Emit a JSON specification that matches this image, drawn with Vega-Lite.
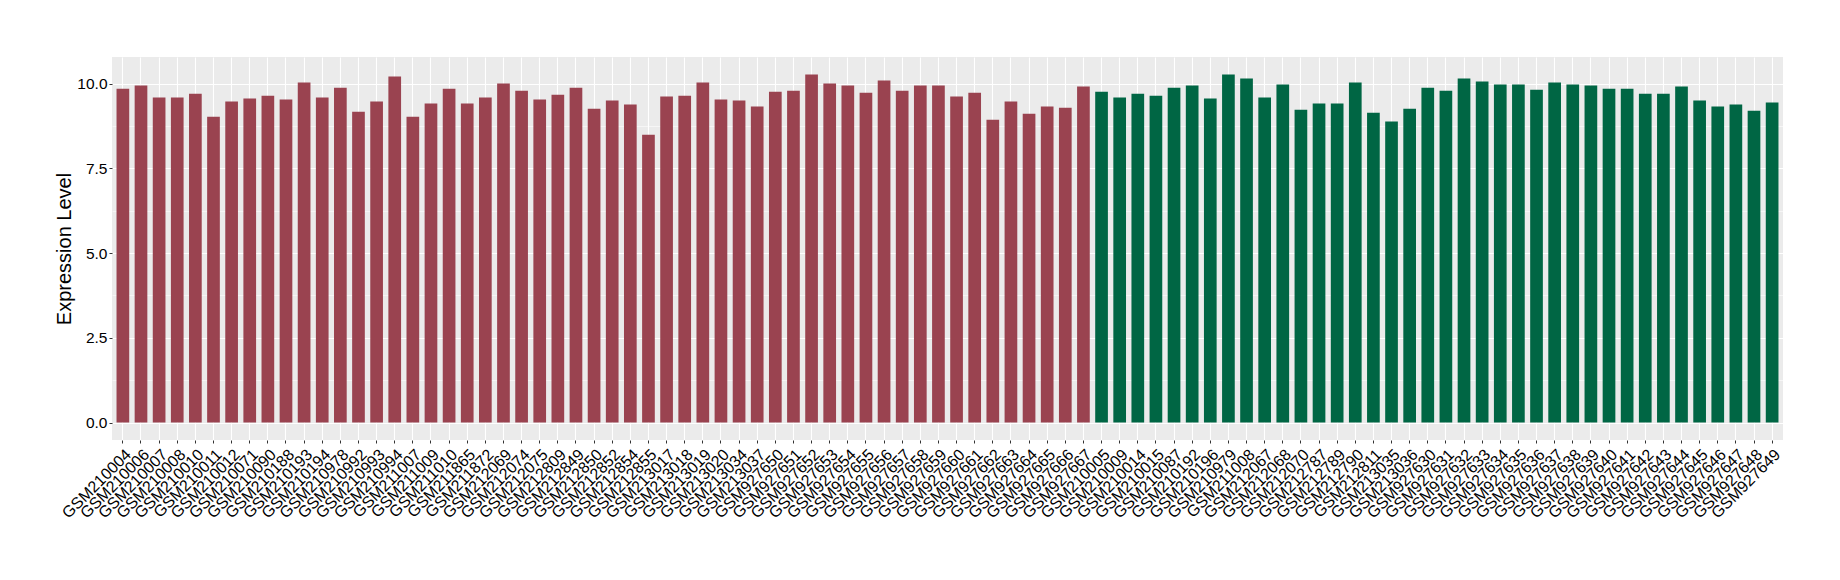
{
  "$schema": "https://vega.github.io/schema/vega-lite/v6.json",
  "width": 1671,
  "height": 383,
  "padding": {"left": 54, "top": 57, "right": 5, "bottom": 5},
  "background": "white",
  "config": {"view": {"fill": "#EBEBEB", "stroke": null}, "font": "Liberation Sans"},
  "data": {"values": [
    {"sample": "GSM210004", "value": 9.85, "group": "g1"},
    {"sample": "GSM210006", "value": 9.94, "group": "g1"},
    {"sample": "GSM210007", "value": 9.59, "group": "g1"},
    {"sample": "GSM210008", "value": 9.59, "group": "g1"},
    {"sample": "GSM210010", "value": 9.70, "group": "g1"},
    {"sample": "GSM210011", "value": 9.02, "group": "g1"},
    {"sample": "GSM210012", "value": 9.47, "group": "g1"},
    {"sample": "GSM210071", "value": 9.56, "group": "g1"},
    {"sample": "GSM210090", "value": 9.64, "group": "g1"},
    {"sample": "GSM210188", "value": 9.53, "group": "g1"},
    {"sample": "GSM210193", "value": 10.03, "group": "g1"},
    {"sample": "GSM210194", "value": 9.59, "group": "g1"},
    {"sample": "GSM210978", "value": 9.88, "group": "g1"},
    {"sample": "GSM210992", "value": 9.17, "group": "g1"},
    {"sample": "GSM210993", "value": 9.47, "group": "g1"},
    {"sample": "GSM210994", "value": 10.21, "group": "g1"},
    {"sample": "GSM211007", "value": 9.02, "group": "g1"},
    {"sample": "GSM211009", "value": 9.41, "group": "g1"},
    {"sample": "GSM211010", "value": 9.85, "group": "g1"},
    {"sample": "GSM211865", "value": 9.41, "group": "g1"},
    {"sample": "GSM211872", "value": 9.59, "group": "g1"},
    {"sample": "GSM212069", "value": 10.00, "group": "g1"},
    {"sample": "GSM212074", "value": 9.79, "group": "g1"},
    {"sample": "GSM212075", "value": 9.53, "group": "g1"},
    {"sample": "GSM212809", "value": 9.67, "group": "g1"},
    {"sample": "GSM212849", "value": 9.88, "group": "g1"},
    {"sample": "GSM212850", "value": 9.26, "group": "g1"},
    {"sample": "GSM212852", "value": 9.50, "group": "g1"},
    {"sample": "GSM212854", "value": 9.38, "group": "g1"},
    {"sample": "GSM212855", "value": 8.49, "group": "g1"},
    {"sample": "GSM213017", "value": 9.62, "group": "g1"},
    {"sample": "GSM213018", "value": 9.64, "group": "g1"},
    {"sample": "GSM213019", "value": 10.03, "group": "g1"},
    {"sample": "GSM213020", "value": 9.53, "group": "g1"},
    {"sample": "GSM213034", "value": 9.50, "group": "g1"},
    {"sample": "GSM213037", "value": 9.32, "group": "g1"},
    {"sample": "GSM927650", "value": 9.76, "group": "g1"},
    {"sample": "GSM927651", "value": 9.79, "group": "g1"},
    {"sample": "GSM927652", "value": 10.27, "group": "g1"},
    {"sample": "GSM927653", "value": 10.00, "group": "g1"},
    {"sample": "GSM927654", "value": 9.94, "group": "g1"},
    {"sample": "GSM927655", "value": 9.73, "group": "g1"},
    {"sample": "GSM927656", "value": 10.09, "group": "g1"},
    {"sample": "GSM927657", "value": 9.79, "group": "g1"},
    {"sample": "GSM927658", "value": 9.94, "group": "g1"},
    {"sample": "GSM927659", "value": 9.94, "group": "g1"},
    {"sample": "GSM927660", "value": 9.62, "group": "g1"},
    {"sample": "GSM927661", "value": 9.73, "group": "g1"},
    {"sample": "GSM927662", "value": 8.93, "group": "g1"},
    {"sample": "GSM927663", "value": 9.47, "group": "g1"},
    {"sample": "GSM927664", "value": 9.11, "group": "g1"},
    {"sample": "GSM927665", "value": 9.32, "group": "g1"},
    {"sample": "GSM927666", "value": 9.29, "group": "g1"},
    {"sample": "GSM927667", "value": 9.91, "group": "g1"},
    {"sample": "GSM210005", "value": 9.76, "group": "g2"},
    {"sample": "GSM210009", "value": 9.59, "group": "g2"},
    {"sample": "GSM210014", "value": 9.70, "group": "g2"},
    {"sample": "GSM210015", "value": 9.64, "group": "g2"},
    {"sample": "GSM210087", "value": 9.88, "group": "g2"},
    {"sample": "GSM210192", "value": 9.94, "group": "g2"},
    {"sample": "GSM210196", "value": 9.56, "group": "g2"},
    {"sample": "GSM210979", "value": 10.27, "group": "g2"},
    {"sample": "GSM211008", "value": 10.15, "group": "g2"},
    {"sample": "GSM212067", "value": 9.59, "group": "g2"},
    {"sample": "GSM212068", "value": 9.97, "group": "g2"},
    {"sample": "GSM212070", "value": 9.23, "group": "g2"},
    {"sample": "GSM212787", "value": 9.41, "group": "g2"},
    {"sample": "GSM212789", "value": 9.41, "group": "g2"},
    {"sample": "GSM212790", "value": 10.03, "group": "g2"},
    {"sample": "GSM212811", "value": 9.14, "group": "g2"},
    {"sample": "GSM213035", "value": 8.88, "group": "g2"},
    {"sample": "GSM213036", "value": 9.26, "group": "g2"},
    {"sample": "GSM927630", "value": 9.88, "group": "g2"},
    {"sample": "GSM927631", "value": 9.79, "group": "g2"},
    {"sample": "GSM927632", "value": 10.15, "group": "g2"},
    {"sample": "GSM927633", "value": 10.06, "group": "g2"},
    {"sample": "GSM927634", "value": 9.97, "group": "g2"},
    {"sample": "GSM927635", "value": 9.97, "group": "g2"},
    {"sample": "GSM927636", "value": 9.82, "group": "g2"},
    {"sample": "GSM927637", "value": 10.03, "group": "g2"},
    {"sample": "GSM927638", "value": 9.97, "group": "g2"},
    {"sample": "GSM927639", "value": 9.94, "group": "g2"},
    {"sample": "GSM927640", "value": 9.85, "group": "g2"},
    {"sample": "GSM927641", "value": 9.85, "group": "g2"},
    {"sample": "GSM927642", "value": 9.70, "group": "g2"},
    {"sample": "GSM927643", "value": 9.70, "group": "g2"},
    {"sample": "GSM927644", "value": 9.91, "group": "g2"},
    {"sample": "GSM927645", "value": 9.50, "group": "g2"},
    {"sample": "GSM927646", "value": 9.32, "group": "g2"},
    {"sample": "GSM927647", "value": 9.38, "group": "g2"},
    {"sample": "GSM927648", "value": 9.20, "group": "g2"},
    {"sample": "GSM927649", "value": 9.44, "group": "g2"}
  ]},
  "mark": {"type": "bar"},
  "encoding": {
    "x": {
      "field": "sample", "type": "nominal", "sort": null,
      "scale": {"paddingInner": 0.3, "paddingOuter": 0.25},
      "axis": {
        "title": null, "labelAngle": -45, "labelFontSize": 16, "labelColor": "black",
        "labelAlign": "right", "labelBaseline": "top", "labelPadding": 3,
        "grid": true, "gridColor": "white", "gridWidth": 1.1, "bandPosition": 0.5,
        "tickColor": "#333333", "tickSize": 3, "domain": false, "labelOverlap": false
      }
    },
    "y": {
      "field": "value", "type": "quantitative",
      "scale": {"domain": [-0.5135, 10.7835], "nice": false, "zero": false},
      "axis": {
        "title": "Expression Level", "titleFontSize": 20, "titleFontWeight": "normal", "titleColor": "black", "titlePadding": 2,
        "values": [0, 1.25, 2.5, 3.75, 5, 6.25, 7.5, 8.75, 10],
        "format": ".1f",
        "labelExpr": "datum.value % 2.5 === 0 ? datum.label : ''",
        "labelFontSize": 15.5, "labelColor": "black", "labelPadding": 2,
        "grid": true, "gridColor": "white",
        "gridWidth": {"condition": {"test": "datum.value % 2.5 === 0", "value": 1.1}, "value": 0.55},
        "tickOpacity": {"condition": {"test": "datum.value % 2.5 === 0", "value": 1}, "value": 0},
        "tickColor": "#333333", "tickSize": 3, "domain": false
      }
    },
    "y2": {"datum": 0},
    "color": {
      "field": "group", "type": "nominal",
      "scale": {"domain": ["g1", "g2"], "range": ["#9A4350", "#006644"]},
      "legend": null
    }
  }
}
